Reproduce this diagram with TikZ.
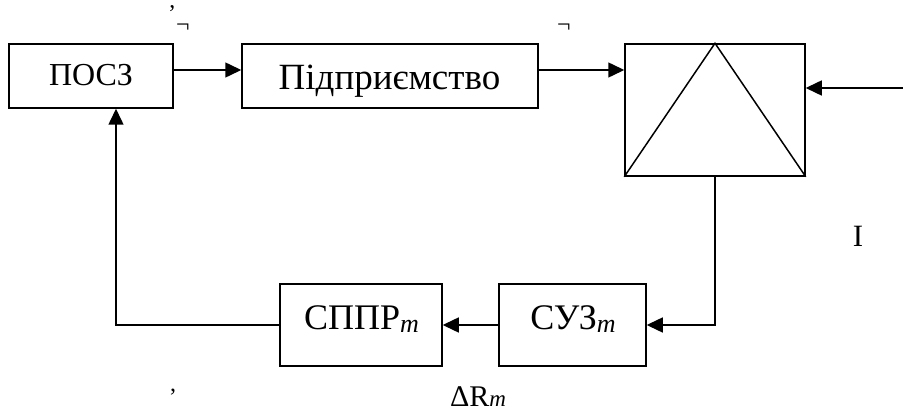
\documentclass[tikz,border=0pt]{standalone}
\usepackage{fontspec}
\setmainfont{Liberation Serif}
\usetikzlibrary{arrows.meta}
\newcommand{\subm}{\raisebox{-0.07em}{\fontsize{26}{26}\selectfont\itshape m}}
\begin{document}
\begin{tikzpicture}[x=1pt,y=-1pt,
  blk/.style={draw,line width=1.5pt,inner sep=0pt},
  conn/.style={line width=1.5pt,-{Triangle[length=16pt,width=15pt]}},
  wire/.style={line width=1.5pt},
  txt/.style={inner sep=0pt,anchor=base},
  tick/.style={font=\fontsize{24}{24}\selectfont,inner sep=0pt}]
\useasboundingbox (0,0) rectangle (903,414);
% boxes
\node[blk,minimum width=164pt,minimum height=64pt] (posz) at (91,76) {};
\node[txt,font=\fontsize{32}{32}\selectfont] (tposz) at (91,86) {ПОСЗ};
\node[blk,minimum width=296pt,minimum height=64pt] (pidp) at (390,76) {};
\node[txt,font=\fontsize{37}{37}\selectfont] (tpidp) at (389.5,90) {Підприємство};
\node[blk,minimum width=180pt,minimum height=132pt] (tri) at (715,110) {};
\draw[wire,line join=miter] (tri.south west) -- (tri.north) -- (tri.south east);
\node[blk,minimum width=162pt,minimum height=82pt] (sppr) at (361,325) {};
\node[txt,font=\fontsize{36}{36}\selectfont] (tsppr) at (361.5,330) {СППР\subm};
\node[blk,minimum width=147pt,minimum height=82pt] (suz) at (572.5,325) {};
\node[txt,font=\fontsize{36}{36}\selectfont] (tsuz) at (573,330) {СУЗ\subm};
% coordinates
\coordinate (rin) at (903,88);
\coordinate (c1) at (tri.south |- suz.east);
\coordinate (c2) at (116,325);
% connectors
\draw[conn] (posz.east |- 0,70) -- (pidp.west |- 0,70);
\draw[conn] (pidp.east |- 0,70) -- (tri.west |- 0,70);
\draw[conn] (rin) -- (tri.east |- rin);
\draw[conn] (tri.south) -- (c1) -- (suz.east);
\draw[conn] (suz.west) -- (sppr.east);
\draw[conn] (sppr.west) -- (c2) -- (c2 |- posz.south);
% stray labels
\node[tick] (m1) at (172,14) {’};
\node[tick] (m2) at (183,28) {¬};
\node[tick] (m3) at (564,28) {¬};
\node[inner sep=0pt,anchor=base,font=\fontsize{31}{31}\selectfont] (m4) at (858,247) {І};
\node[tick] (m5) at (173,392) {,};
\node[txt,font=\fontsize{30}{30}\selectfont] (dr) at (478,406) {ΔR\raisebox{0pt}{\fontsize{23}{23}\selectfont\itshape m}};
\end{tikzpicture}
\end{document}
